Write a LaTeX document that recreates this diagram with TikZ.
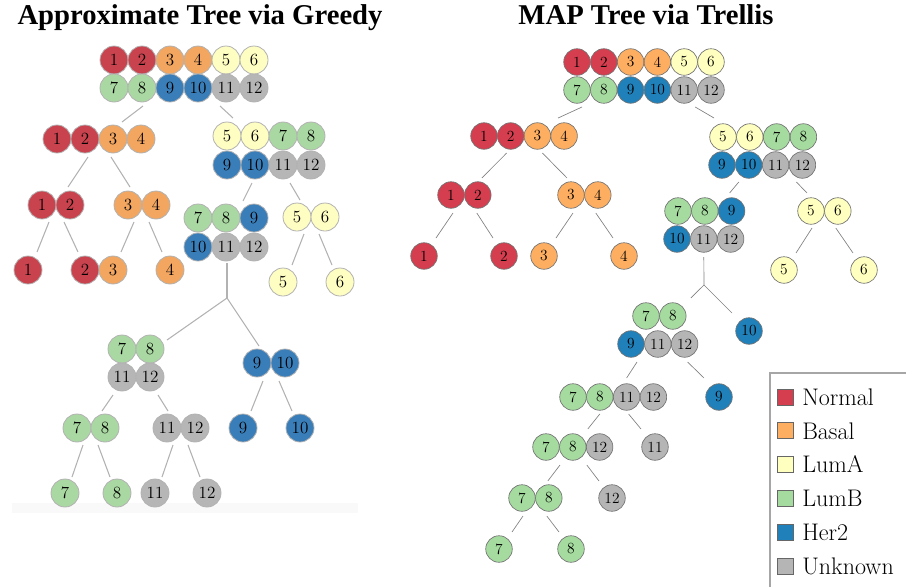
\documentclass[tikz,border=0pt]{standalone}
\usepackage{fontspec}
\newfontfamily\titlefont{Liberation Serif}
\usetikzlibrary{calc}

% greedy panel (washed) and trellis panel colours
\definecolor{lN}{HTML}{C9434F}
\definecolor{lB}{HTML}{F2A660}
\definecolor{lA}{HTML}{FEFDC2}
\definecolor{lG}{HTML}{AAD8A2}
\definecolor{lH}{HTML}{3A7EB9}
\definecolor{lU}{HTML}{B6B6B6}
\definecolor{rN}{HTML}{D53E4F}
\definecolor{rB}{HTML}{FDAE61}
\definecolor{rA}{HTML}{FFFFBF}
\definecolor{rG}{HTML}{A6DBA0}
\definecolor{rH}{HTML}{2080B9}
\definecolor{rU}{HTML}{B5B5B5}

\tikzset{
  ballL/.style={circle, fill=l#1, draw=black!30, line width=0.6pt, minimum size=21pt, inner sep=0pt, font=\fontsize{12.8}{13}\selectfont},
  ballR/.style={circle, fill=r#1, draw=black!55, line width=0.5pt, minimum size=19.9pt, inner sep=0pt, font=\fontsize{11.6}{12}\selectfont},
  linkL/.style={draw=black!30, line width=0.8pt},
  linkR/.style={draw=black!50, line width=0.5pt},
  keybox/.style={draw=black!60, fill=r#1, minimum size=12pt, inner sep=0pt, line width=0.5pt},
  keytext/.style={anchor=west, inner sep=0pt, font=\fontsize{18}{18}\selectfont},
  heading/.style={anchor=base, inner sep=0pt, font=\titlefont\bfseries\fontsize{21.5}{22}\selectfont}
}

% a row of touching balls: style, group name, x, y, step, label/colour list
\newcommand{\ballrow}[6]{%
  \foreach \lab/\col [count=\i] in {#6}
    \node[#1=\col] (#2-\lab) at ({#3+(\i-1)*#5},#4) {\lab};}
% a branch between two named nodes, with offsets
\newcommand{\joinup}[5]{\draw[#1] ($(#2)+(#3)$) -- ($(#4)+(#5)$);}

\begin{document}
\begin{tikzpicture}[x=0.75pt,y=0.75pt,yscale=-1,xscale=1]
\useasboundingbox (0,0) rectangle (906,586);

% Titles
\node[heading] (tgreedy) at (200,24) {Approximate Tree via Greedy};
\node[heading] (ttrellis) at (646,24) {MAP Tree via Trellis};

%Shape: strip under the greedy panel
\fill[black!2.5] (12,503) rectangle (358,513);

%% ---------- greedy tree ----------
\ballrow{ballL}{L0}{114}{60}{28}{1/N,2/N,3/B,4/B,5/A,6/A}
\ballrow{ballL}{L0}{114}{88}{28}{7/G,8/G,9/H,10/H,11/U,12/U}
\ballrow{ballL}{L1}{57}{139}{28}{1/N,2/N,3/B,4/B}
\ballrow{ballL}{L2}{227}{136}{28}{5/A,6/A,7/G,8/G}
\ballrow{ballL}{L2}{227}{165}{28}{9/H,10/H,11/U,12/U}
\ballrow{ballL}{L3}{42}{205}{28}{1/N,2/N}
\ballrow{ballL}{L4}{128}{205}{28}{3/B,4/B}
\ballrow{ballL}{L5}{198}{218}{28}{7/G,8/G,9/H}
\ballrow{ballL}{L5}{198}{247}{28}{10/H,11/U,12/U}
\ballrow{ballL}{L6}{297}{217}{28}{5/A,6/A}
\ballrow{ballL}{L7}{122}{349}{28}{7/G,8/G}
\ballrow{ballL}{L7}{122}{377}{28}{11/U,12/U}
\ballrow{ballL}{L8}{257}{363}{28}{9/H,10/H}
\ballrow{ballL}{L9}{77}{428}{28}{7/G,8/G}
\ballrow{ballL}{L10}{167}{428}{28}{11/U,12/U}
% leaves
\node[ballL=N] (Ll1) at (28,270) {1};
\node[ballL=N] (Ll2) at (85,270) {2};
\node[ballL=B] (Ll3) at (113,270) {3};
\node[ballL=B] (Ll4) at (170,270) {4};
\node[ballL=A] (Ll5) at (283,282) {5};
\node[ballL=A] (Ll6) at (340,282) {6};
\node[ballL=H] (Ll9) at (243,428) {9};
\node[ballL=H] (Ll10) at (300,428) {10};
\node[ballL=G] (Ll7) at (65,493) {7};
\node[ballL=G] (Ll8) at (117,493) {8};
\node[ballL=U] (Ll11) at (155,493) {11};
\node[ballL=U] (Ll12) at (207,493) {12};
\coordinate (LJ) at (227,298);

\joinup{linkL}{L0-8}{1,18}{L1-3}{9,-17}
\joinup{linkL}{L0-11}{-6,18}{L2-5}{6,-18}
\joinup{linkL}{L1-2}{3,18}{L3-2}{-2,-18}
\joinup{linkL}{L1-3}{-2,18}{L4-3}{2,-18}
\joinup{linkL}{L2-10}{-3,18}{L5-9}{-11,-17}
\joinup{linkL}{L2-11}{7,18}{L6-5}{3,-17}
\joinup{linkL}{L3-1}{7,17}{Ll1}{9,-18}
\joinup{linkL}{L3-2}{-6,17}{Ll2}{-7,-18}
\joinup{linkL}{L4-3}{6,17}{Ll3}{8,-18}
\joinup{linkL}{L4-4}{-7,17}{Ll4}{-8,-18}
\joinup{linkL}{L6-5}{7,17}{Ll5}{9,-17}
\joinup{linkL}{L6-6}{-6,17}{Ll6}{-8,-17}
\joinup{linkL}{L5-11}{1,16}{LJ}{0,0}
\joinup{linkL}{LJ}{0,0}{L7-8}{17,-9}
\joinup{linkL}{LJ}{0,0}{L8-9}{2,-17}
\joinup{linkL}{L7-11}{-9,18}{L9-8}{-3,-17}
\joinup{linkL}{L7-12}{8,18}{L10-11}{1,-17}
\joinup{linkL}{L8-9}{6,18}{Ll9}{8,-17}
\joinup{linkL}{L8-10}{-6,18}{Ll10}{-8,-17}
\joinup{linkL}{L9-7}{6,17}{Ll7}{7,-16}
\joinup{linkL}{L9-8}{-7,17}{Ll8}{-7,-16}
\joinup{linkL}{L10-11}{6,17}{Ll11}{7,-16}
\joinup{linkL}{L10-12}{-7,17}{Ll12}{-7,-16}

%% ---------- trellis tree ----------
\ballrow{ballR}{R0}{577}{62}{26.8}{1/N,2/N,3/B,4/B,5/A,6/A}
\ballrow{ballR}{R0}{577}{90}{26.8}{7/G,8/G,9/H,10/H,11/U,12/U}
\ballrow{ballR}{R1}{484}{136}{26.7}{1/N,2/N,3/B,4/B}
\ballrow{ballR}{R2}{723}{137}{26.8}{5/A,6/A,7/G,8/G}
\ballrow{ballR}{R2}{722}{165}{26.8}{9/H,10/H,11/U,12/U}
\ballrow{ballR}{R3}{451}{195}{26.8}{1/N,2/N}
\ballrow{ballR}{R4}{571}{195}{26.8}{3/B,4/B}
\ballrow{ballR}{R5}{678}{211}{26.8}{7/G,8/G,9/H}
\ballrow{ballR}{R5}{677}{239}{26.8}{10/H,11/U,12/U}
\ballrow{ballR}{R6}{811}{211}{26.8}{5/A,6/A}
\ballrow{ballR}{R7}{646}{316}{26.8}{7/G,8/G}
\ballrow{ballR}{R7}{631}{344}{26.8}{9/H,11/U,12/U}
\ballrow{ballR}{R8}{573}{397}{26.8}{7/G,8/G,11/U,12/U}
\ballrow{ballR}{R9}{546}{447}{26.8}{7/G,8/G,12/U}
\ballrow{ballR}{R10}{522}{498}{26.8}{7/G,8/G}
% leaves
\node[ballR=N] (Rl1) at (424,256) {1};
\node[ballR=N] (Rl2) at (504,256) {2};
\node[ballR=B] (Rl3) at (544,256) {3};
\node[ballR=B] (Rl4) at (624,256) {4};
\node[ballR=A] (Rl5) at (784,270) {5};
\node[ballR=A] (Rl6) at (864,270) {6};
\node[ballR=H] (Rl10) at (749,331) {10};
\node[ballR=H] (Rl9) at (719,397) {9};
\node[ballR=U] (Rl11) at (655,447) {11};
\node[ballR=U] (Rl12) at (612,498) {12};
\node[ballR=G] (Rl7) at (499,549) {7};
\node[ballR=G] (Rl8) at (571,549) {8};
\coordinate (RJ) at (704,285);

\joinup{linkR}{R0-7}{5,17}{R1-4}{-6,-18}
\joinup{linkR}{R0-11}{11,17}{R2-5}{-9,-19}
\joinup{linkR}{R1-2}{-4,17}{R3-2}{4,-17}
\joinup{linkR}{R1-3}{5,17}{R4-3}{-4,-17}
\joinup{linkR}{R2-10}{-10,17}{R5-9}{-2,-18}
\joinup{linkR}{R2-12}{-6,17}{R6-5}{-4,-18}
\joinup{linkR}{R3-1}{2,18}{Rl1}{12,-18}
\joinup{linkR}{R3-2}{-1,18}{Rl2}{-11,-18}
\joinup{linkR}{R4-3}{2,18}{Rl3}{12,-18}
\joinup{linkR}{R4-4}{-2,18}{Rl4}{-11,-18}
\joinup{linkR}{R6-5}{1,17}{Rl5}{12,-17}
\joinup{linkR}{R6-6}{-2,17}{Rl6}{-11,-17}
\joinup{linkR}{R5-11}{0,18}{RJ}{0,0}
\joinup{linkR}{RJ}{0,0}{R7-8}{18,-18}
\joinup{linkR}{RJ}{0,0}{Rl10}{-17,-18}
\joinup{linkR}{R7-9}{6,18}{R8-11}{0,-19}
\joinup{linkR}{R7-12}{3,18}{Rl9}{-15,-19}
\joinup{linkR}{R8-8}{0,17}{R9-8}{15,-18}
\joinup{linkR}{R8-11}{2,17}{Rl11}{-14,-18}
\joinup{linkR}{R9-7}{14,18}{R10-8}{-1,-17}
\joinup{linkR}{R9-8}{14,18}{Rl12}{-13,-17}
\joinup{linkR}{R10-7}{1,18}{Rl7}{13,-17}
\joinup{linkR}{R10-8}{-2,18}{Rl8}{-12,-17}

%% ---------- legend ----------
\draw[black!35, line width=0.8pt] (920,373) -- (770,373) -- (770,600);
\foreach \nm/\col [count=\i] in {Normal/N,Basal/B,LumA/A,LumB/G,Her2/H,Unknown/U}{
  \node[keybox=\col] (key-\i) at (785,{397+(\i-1)*33.8}) {};
  \node[keytext] (keyt-\i) at (802,{397+(\i-1)*33.8}) {\nm};
}

\end{tikzpicture}
\end{document}
